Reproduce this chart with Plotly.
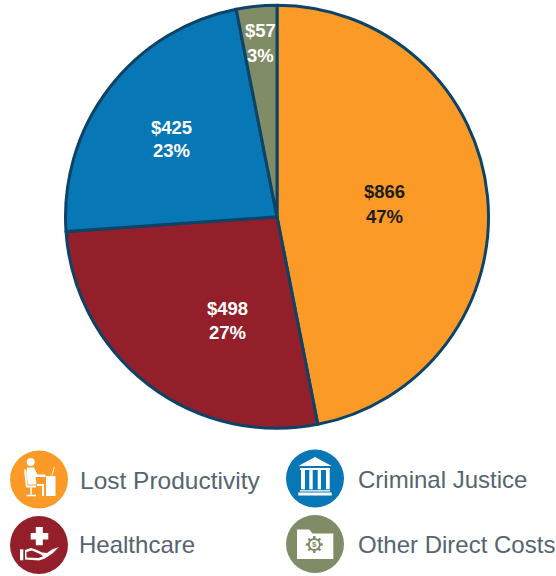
import plotly.graph_objects as go

categories = ["Lost Productivity", "Healthcare", "Criminal Justice", "Other Direct Costs"]
values = [866, 498, 425, 57]
percents = [47, 27, 23, 3]
colors = ["#FC9A27", "#931F2A", "#0877B5", "#808C66"]
label_colors = ["#1d1d1b", "#ffffff", "#ffffff", "#ffffff"]

W, H = 556, 576
CX, CY, R = 277, 216.8, 211.5
label_pos = [(384, 192, 216), (227, 308, 332), (171, 127, 150), (260.5, 30.5, 56)]
legend_pos = [(78, 480), (77, 544), (356, 479), (356, 544)]
legend_sizes = [24.5, 24, 24, 24]
icon_pos = [(39, 479.5), (39, 545), (315, 478.5), (315, 544)]
ICON_R = 29

fx = lambda x: x / W
fy = lambda y: 1 - y / H


def poly(cx, cy, pts, color="#ffffff"):
    cmds = [f"{'L' if i else 'M'}{fx(cx + p[0]):.5f},{fy(cy + p[1]):.5f}" for i, p in enumerate(pts)]
    return dict(type="path", xref="paper", yref="paper", layer="above",
                path=" ".join(cmds) + " Z", fillcolor=color, line=dict(width=0))


def disc(cx, cy, r, color="#ffffff"):
    return dict(type="circle", xref="paper", yref="paper", layer="above",
                x0=fx(cx - r), x1=fx(cx + r), y0=fy(cy + r), y1=fy(cy - r),
                fillcolor=color, line=dict(width=0))


def line(cx, cy, a, b, w=1.2, color="#ffffff"):
    return dict(type="line", xref="paper", yref="paper", layer="above",
                x0=fx(cx + a[0]), y0=fy(cy + a[1]), x1=fx(cx + b[0]), y1=fy(cy + b[1]),
                line=dict(color=color, width=w))


shapes = []
for (ix, iy), c in zip(icon_pos, colors):
    shapes.append(disc(ix, iy, ICON_R, c))

# Lost Productivity icon
x, y = icon_pos[0]
shapes += [
    disc(x - 8.3, y - 17.5, 4),
    poly(x, y, [(-12, -12), (-5, -12), (-1.5, -5), (6.5, -5), (6.5, -2.5), (-3.5, -2.5), (-2.5, 5), (-11, 5), (-12.5, -6)]),
    poly(x, y, [(7, -3.5), (16.5, -3.5), (16.5, 16.5), (7, 16.5)]),
    poly(x, y, [(-15, -10), (-13, -10), (-11.5, 6), (-3, 6), (-3, 8), (-13, 8)]),
    line(x, y, (-8, 8), (-8, 15), 1.6),
    line(x, y, (-12.5, 16), (-3, 16), 1.6),
    line(x, y, (-2, 5.5), (5, 5.5), 2),
    line(x, y, (4, 5), (4, 16.5), 2),
    line(x, y, (12.7, -4), (15.3, -12), 1),
]

# Healthcare icon
x, y = icon_pos[1]
shapes += [
    poly(x, y, [(-3.2, -18), (3.8, -18), (3.8, -12), (9.3, -12), (9.3, -5.5), (3.8, -5.5), (3.8, 0.3),
                (-3.2, 0.3), (-3.2, -5.5), (-8.3, -5.5), (-8.3, -12), (-3.2, -12)]),
    poly(x, y, [(-19, 4.3), (-15.7, 4.3), (-15.7, 15.3), (-19, 15.3)]),
    poly(x, y, [(-14, 5), (-8, 3), (-2, 5), (3, 7.5), (8, 8), (13, 4.5), (20, 2), (14, 8), (6, 13.5), (0, 15.5), (-14, 14.5)]),
    poly(x, y, [(-12.5, 7), (-7, 5.5), (2, 9.5), (4, 11.5), (-1, 13), (-12.5, 12.5)], colors[1]),
]

# Criminal Justice icon
x, y = icon_pos[2]
shapes += [
    poly(x, y, [(0, -21.5), (16.7, -12.5), (-16.7, -12.5)]),
    poly(x, y, [(-15, -10.5), (15, -10.5), (15, -8.5), (-15, -8.5)]),
    poly(x, y, [(-14, -8.5), (-10, -8.5), (-10, 10.8), (-14, 10.8)]),
    poly(x, y, [(-5.7, -8.5), (-2.3, -8.5), (-2.3, 10.8), (-5.7, 10.8)]),
    poly(x, y, [(2.7, -8.5), (6, -8.5), (6, 10.8), (2.7, 10.8)]),
    poly(x, y, [(11, -8.5), (14.7, -8.5), (14.7, 10.8), (11, 10.8)]),
    poly(x, y, [(-15, 11.7), (15, 11.7), (15, 13), (-15, 13)]),
    poly(x, y, [(-16.7, 14), (16.7, 14), (16.7, 17), (-16.7, 17)]),
]

# Other Direct Costs icon
x, y = icon_pos[3]
shapes.append(poly(x, y, [(-18, -14.5), (-5.7, -14.5), (-2.5, -10.5), (18.3, -10.5), (18.3, 15), (-18, 15)]))
for a, b in [((-0.7, -8), (-0.7, 9)), ((-9.2, 0.5), (7.8, 0.5)), ((-6.7, -5.5), (5.3, 6.5)), ((-6.7, 6.5), (5.3, -5.5))]:
    shapes.append(line(x, y, a, b, 2.4, colors[3]))
shapes += [disc(x - 0.7, y + 0.5, 6.5, colors[3]), disc(x - 0.7, y + 0.5, 4.6)]

annotations = []
for v, p, lc, (lx, y1, y2) in zip(values, percents, label_colors, label_pos):
    for txt, ly in ((f"<b>${v}</b>", y1), (f"<b>{p}%</b>", y2)):
        annotations.append(dict(
            x=fx(lx), y=fy(ly), xref="paper", yref="paper", showarrow=False,
            text=txt, xanchor="center", yanchor="middle",
            font=dict(family="Liberation Sans", size=18.5, color=lc)))
for name, (lx, ly), sz in zip(categories, legend_pos, legend_sizes):
    annotations.append(dict(
        x=fx(lx), y=fy(ly), xref="paper", yref="paper", showarrow=False,
        text=name, xanchor="left", yanchor="middle",
        font=dict(family="Liberation Sans", size=sz, color="#55656F")))
annotations.append(dict(
    x=fx(icon_pos[3][0] - 0.7), y=fy(icon_pos[3][1] + 0.5), xref="paper", yref="paper",
    showarrow=False, text="<b>$</b>", xanchor="center", yanchor="middle",
    font=dict(family="Liberation Sans", size=8, color=colors[3])))

fig = go.Figure(go.Pie(
    labels=categories, values=values, sort=False, direction="clockwise", rotation=0,
    marker=dict(colors=colors, line=dict(color="#0D4366", width=3)),
    textinfo="none", hoverinfo="label+value+percent", showlegend=False,
    domain=dict(x=[fx(CX - R), fx(CX + R)], y=[fy(CY + R), fy(CY - R)]),
))
fig.update_layout(
    width=W, height=H, margin=dict(l=0, r=0, t=0, b=0),
    paper_bgcolor="#ffffff", shapes=shapes, annotations=annotations,
    showlegend=False,
)
fig.write_html("out.html", config=dict(displayModeBar=False),
               post_script="document.body.style.margin='0';")
